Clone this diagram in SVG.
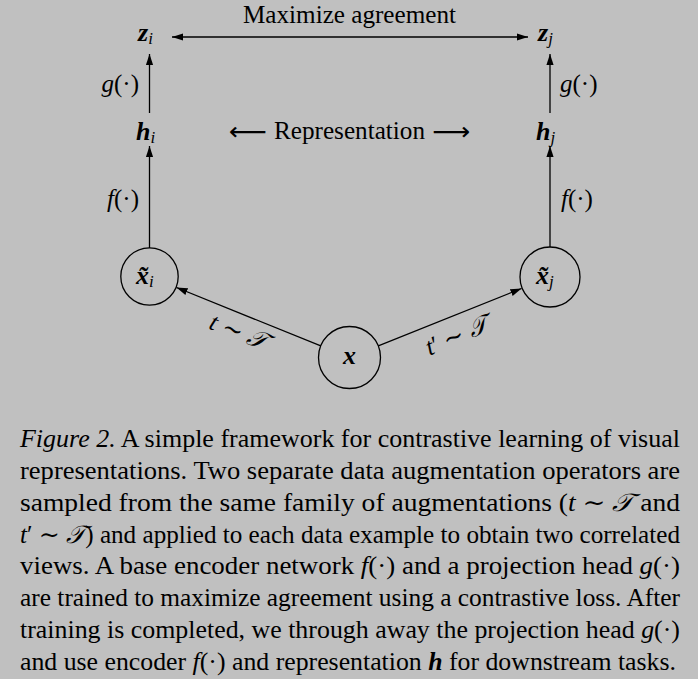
<svg xmlns="http://www.w3.org/2000/svg" width="698" height="679" viewBox="0 0 698 679">
<style>
.t{font-family:"Liberation Serif","DejaVu Serif",serif;fill:#000}
.d{font-size:25px}
.m{font-size:26px}
.bi{font-weight:bold;font-style:italic}
.it{font-style:italic}
.sub{font-size:17px;font-style:italic;font-weight:normal}
.cap{font-size:25px}
.ln{stroke:#000;stroke-width:1.3;fill:none}
.nd{fill:none;stroke:#000;stroke-width:1.3}
.sym{font-family:"DejaVu Sans","Noto Sans",sans-serif}
</style>
<defs>
<marker id="ah" markerUnits="userSpaceOnUse" markerWidth="12" markerHeight="9" refX="11" refY="4" orient="auto-start-reverse">
<path d="M0,0.4 L11,4 L0,7.6 z" fill="#000"/>
</marker>
</defs>
<rect width="698" height="679" fill="#c0c0c0"/>

<g id="connectors">
<line class="ln" x1="172" y1="37" x2="528" y2="37" marker-start="url(#ah)" marker-end="url(#ah)"/>
<line class="ln" x1="149.5" y1="113" x2="149.5" y2="54" marker-end="url(#ah)"/>
<line class="ln" x1="550" y1="113" x2="550" y2="54" marker-end="url(#ah)"/>
<line class="ln" x1="149.5" y1="248" x2="149.5" y2="146" marker-end="url(#ah)"/>
<line class="ln" x1="550" y1="247" x2="550" y2="146" marker-end="url(#ah)"/>
<line class="ln" x1="320.8" y1="345.9" x2="176.5" y2="287.5" marker-end="url(#ah)"/>
<line class="ln" x1="378.3" y1="345.9" x2="521.5" y2="288.5" marker-end="url(#ah)"/>
</g>

<g id="label-maximize"><text class="t d" x="243" y="22.5" textLength="213" lengthAdjust="spacingAndGlyphs">Maximize agreement</text></g>

<g id="node-zi"><text class="t m" x="138" y="41"><tspan class="bi">z</tspan><tspan class="sub" dy="3">i</tspan></text></g>
<g id="node-zj"><text class="t m" x="538" y="41"><tspan class="bi">z</tspan><tspan class="sub" dy="3">j</tspan></text></g>

<g id="label-g-left"><text class="t d" x="139" y="92" text-anchor="end"><tspan class="it">g</tspan>(·)</text></g>
<g id="label-g-right"><text class="t d" x="560" y="92"><tspan class="it">g</tspan>(·)</text></g>

<g id="node-hi"><text class="t m" x="136" y="140"><tspan class="bi">h</tspan><tspan class="sub" dy="3">i</tspan></text></g>
<g id="node-hj"><text class="t m" x="536" y="140"><tspan class="bi">h</tspan><tspan class="sub" dy="3">j</tspan></text></g>

<g id="label-representation">
<text class="t d sym" x="229" y="140" textLength="38" lengthAdjust="spacingAndGlyphs">⟵</text>
<text class="t d" x="274" y="138.5" textLength="151" lengthAdjust="spacingAndGlyphs">Representation</text>
<text class="t d sym" x="432" y="140" textLength="38" lengthAdjust="spacingAndGlyphs">⟶</text>
</g>

<g id="label-f-left"><text class="t d" x="139" y="207" text-anchor="end"><tspan class="it">f</tspan>(·)</text></g>
<g id="label-f-right"><text class="t d" x="561" y="207"><tspan class="it">f</tspan>(·)</text></g>

<g id="node-xi">
<circle class="nd" cx="149.5" cy="276.5" r="28.7"/>
<text class="t m" x="136" y="284"><tspan class="bi">x̃</tspan><tspan class="sub" dy="3">i</tspan></text>
</g>
<g id="node-xj">
<circle class="nd" cx="550" cy="277" r="30"/>
<text class="t m" x="536" y="284"><tspan class="bi">x̃</tspan><tspan class="sub" dy="3">j</tspan></text>
</g>
<g id="node-x">
<circle class="nd" cx="349.5" cy="357.5" r="31"/>
<text class="t m bi" x="349.5" y="364" text-anchor="middle">x</text>
</g>

<g id="label-t">
<text class="t d" transform="translate(238,333) rotate(22)" x="0" y="7" text-anchor="middle"><tspan class="it">t</tspan> ∼ <tspan class="it">𝒯</tspan></text>
</g>
<g id="label-tprime">
<text class="t d" transform="translate(457,337) rotate(-22)" x="0" y="7" text-anchor="middle"><tspan class="it">t</tspan>′ ∼ <tspan class="it">𝒯</tspan></text>
</g>

<g id="caption" class="t cap">
<text x="20" y="447" textLength="660" lengthAdjust="spacingAndGlyphs"><tspan class="it">Figure 2.</tspan> A simple framework for contrastive learning of visual</text>
<text x="20" y="479" textLength="660" lengthAdjust="spacingAndGlyphs">representations.  Two separate data augmentation operators are</text>
<text x="20" y="511" textLength="660" lengthAdjust="spacingAndGlyphs">sampled from the same family of augmentations (<tspan class="it">t</tspan> ∼ <tspan class="it">𝒯</tspan> and</text>
<text x="20" y="543" textLength="660" lengthAdjust="spacingAndGlyphs"><tspan class="it">t</tspan>′ ∼ <tspan class="it">𝒯</tspan>) and applied to each data example to obtain two correlated</text>
<text x="20" y="574" textLength="660" lengthAdjust="spacingAndGlyphs">views.  A base encoder network <tspan class="it">f</tspan>(·) and a projection head <tspan class="it">g</tspan>(·)</text>
<text x="20" y="606" textLength="660" lengthAdjust="spacingAndGlyphs">are trained to maximize agreement using a contrastive loss. After</text>
<text x="20" y="638" textLength="660" lengthAdjust="spacingAndGlyphs">training is completed, we through away the projection head <tspan class="it">g</tspan>(·)</text>
<text x="20" y="670" textLength="656" lengthAdjust="spacingAndGlyphs">and use encoder <tspan class="it">f</tspan>(·) and representation <tspan class="bi">h</tspan> for downstream tasks.</text>
</g>
</svg>
